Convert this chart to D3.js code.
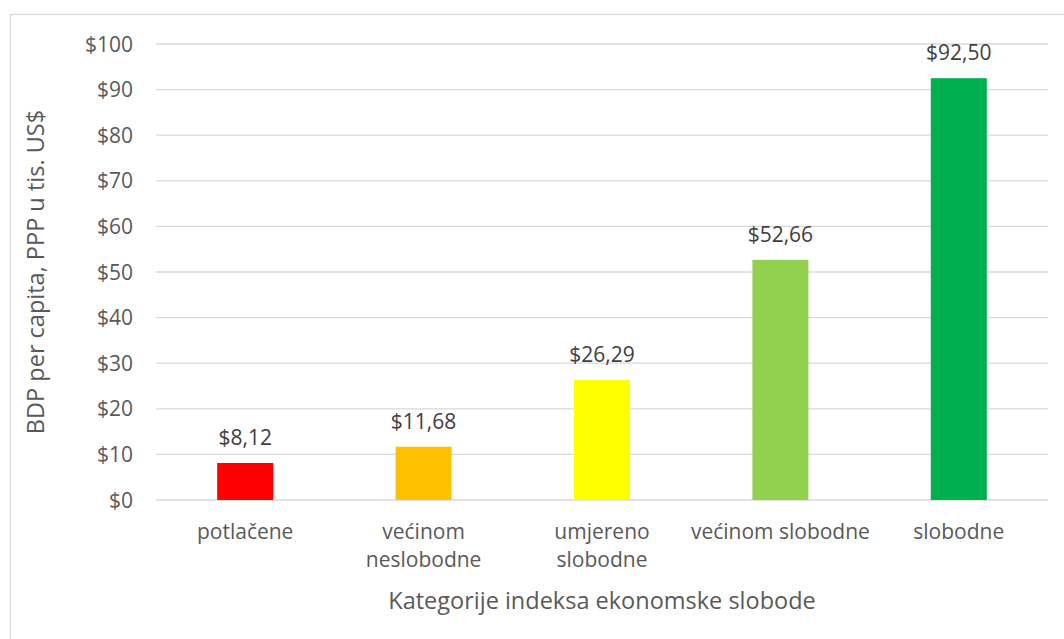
<!DOCTYPE html>
<html>
<head>
<meta charset="utf-8">
<script src="https://cdn.jsdelivr.net/npm/d3@7"></script>
<style>
  body { margin: 0; background: #fff; }
  svg { font-family: "Open Sans", "Noto Sans", sans-serif; }
</style>
</head>
<body>
<div id="chart"></div>
<script>
// chart data
const categories = ["potlačene", "većinom neslobodne", "umjereno slobodne", "većinom slobodne", "slobodne"];
const categoryLines = [["potlačene"], ["većinom", "neslobodne"], ["umjereno", "slobodne"], ["većinom slobodne"], ["slobodne"]];
const values = [8.12, 11.68, 26.29, 52.66, 92.50];
const barColors = ["#ff0000", "#ffc000", "#ffff00", "#92d050", "#00b050"];
const yTicks = [0, 10, 20, 30, 40, 50, 60, 70, 80, 90, 100];

const W = 1064, H = 639;
const margin = { top: 44, right: 16, bottom: 139, left: 156 };
const width = W - margin.left - margin.right;
const height = H - margin.top - margin.bottom;

const svg = d3.select("#chart").append("svg")
  .attr("width", W)
  .attr("height", H);

// chart border
svg.append("rect")
  .attr("x", 10.5)
  .attr("y", 14.5)
  .attr("width", 1070)
  .attr("height", 650)
  .attr("fill", "none")
  .attr("stroke", "#d9d9d9")
  .attr("stroke-width", 1.3);

const g = svg.append("g")
  .attr("transform", `translate(${margin.left},${margin.top})`);

const x = d3.scaleBand()
  .domain(categories)
  .range([0, width])
  .paddingInner(0.686)
  .paddingOuter(0.343);

const y = d3.scaleLinear()
  .domain([0, 100])
  .range([height, 0]);

// gridlines
g.selectAll(".grid")
  .data(yTicks)
  .enter()
  .append("line")
  .attr("x1", 0)
  .attr("x2", width)
  .attr("y1", d => y(d))
  .attr("y2", d => y(d))
  .attr("stroke", "#d9d9d9")
  .attr("stroke-width", 1.3);

// y tick labels
g.selectAll(".ytick")
  .data(yTicks)
  .enter()
  .append("text")
  .attr("x", -23)
  .attr("y", d => y(d))
  .attr("dy", "0.36em")
  .attr("text-anchor", "end")
  .style("font-size", "21px")
  .style("fill", "#595959")
  .text(d => "$" + d);

// bars
g.selectAll(".bar")
  .data(values)
  .enter()
  .append("rect")
  .attr("x", (d, i) => x(categories[i]))
  .attr("y", d => y(d))
  .attr("width", x.bandwidth())
  .attr("height", d => height - y(d))
  .attr("fill", (d, i) => barColors[i]);

// data labels
const fmt = d3.formatLocale({ decimal: ",", thousands: ".", grouping: [3], currency: ["$", ""] }).format("$.2f");
g.selectAll(".label")
  .data(values)
  .enter()
  .append("text")
  .attr("x", (d, i) => x(categories[i]) + x.bandwidth() / 2)
  .attr("y", d => y(d) - 18)
  .attr("text-anchor", "middle")
  .style("font-size", "21px")
  .style("fill", "#404040")
  .text(d => fmt(d));

// category labels
const cat = g.selectAll(".cat")
  .data(categoryLines)
  .enter()
  .append("text")
  .attr("text-anchor", "middle")
  .style("font-size", "21px")
  .style("fill", "#595959");

cat.selectAll("tspan")
  .data((d, i) => d.map(t => ({ t, i })))
  .enter()
  .append("tspan")
  .attr("x", d => x(categories[d.i]) + x.bandwidth() / 2)
  .attr("y", (d, j) => height + 39 + j * 28)
  .text(d => d.t);

// axis titles
g.append("text")
  .attr("x", width / 2)
  .attr("y", height + 109)
  .attr("text-anchor", "middle")
  .style("font-size", "23.5px")
  .style("fill", "#595959")
  .text("Kategorije indeksa ekonomske slobode");

g.append("text")
  .attr("transform", "rotate(-90)")
  .attr("x", -height / 2)
  .attr("y", -112)
  .attr("text-anchor", "middle")
  .style("font-size", "23.5px")
  .style("fill", "#595959")
  .text("BDP per capita, PPP u tis. US$");
</script>
</body>
</html>
